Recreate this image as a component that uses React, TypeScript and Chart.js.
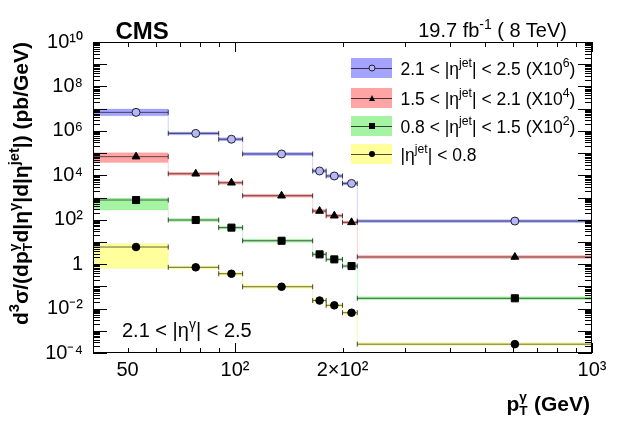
import { useEffect, useRef } from "react";
import type { ReactNode } from "react";
import { Chart, registerables } from "chart.js";
import type { Plugin } from "chart.js";

Chart.register(...registerables);

const FONT = '"Liberation Sans", Arial, Helvetica, sans-serif';

// photon pT bins (GeV) and the mean pT of each bin
const binEdges = [40, 65, 90, 105, 165, 180, 200, 220, 1000];
const binMeans = [52.8, 77.6, 97.7, 135, 172.5, 189.7, 212, 608];

// d3sigma (pb/GeV), already multiplied by the factor given in the legend
const xsEta2125 = [6.8e6, 7.7e5, 4.2e5, 9.1e4, 1.56e4, 9.3e3, 4.3e3, 87];
const xsEta1521 = [6.9e4, 1.17e4, 4.6e3, 1.2e3, 246, 151, 76, 2.1];
const xsEta0815 = [770, 97, 44, 11.3, 2.76, 1.64, 0.82, 0.029];
const xsEta0008 = [5.9, 0.72, 0.37, 0.096, 0.023, 0.014, 0.0065, 2.5e-4];

// systematic band, relative up / down
const sysUp2125 = [0.41, 0.16, 0.16, 0.16, 0.16, 0.16, 0.16, 0.16];
const sysDown2125 = [0.29, 0.14, 0.14, 0.14, 0.14, 0.14, 0.14, 0.14];
const sysUp1521 = [0.51, 0.16, 0.16, 0.16, 0.16, 0.16, 0.16, 0.16];
const sysDown1521 = [0.46, 0.14, 0.14, 0.14, 0.14, 0.14, 0.14, 0.14];
const sysUp0815 = [0.23, 0.16, 0.16, 0.16, 0.16, 0.16, 0.16, 0.16];
const sysDown0815 = [0.64, 0.14, 0.14, 0.14, 0.14, 0.14, 0.14, 0.14];
const sysUp0008 = [0.41, 0.16, 0.16, 0.16, 0.16, 0.16, 0.16, 0.16];
const sysDown0008 = [0.89, 0.14, 0.14, 0.14, 0.14, 0.14, 0.14, 0.14];

// labelled ticks
const xTickValues = [50, 100, 200, 1000];
const xTickLabels = ["50", "10²", "2×10²", "10³"];
const yTickValues = [1e-4, 1e-2, 1, 1e2, 1e4, 1e6, 1e8, 1e10];
const yTickLabels = ["10⁻⁴", "10⁻²", "1", "10²", "10⁴", "10⁶", "10⁸", "10¹⁰"];

type Series = {
  values: number[];
  up: number[];
  down: number[];
  band: string;
  edge: string;
  pointStyle: "circle" | "triangle" | "rect";
  radius: number;
  fill: string;
};

const series: Series[] = [
  { values: xsEta2125, up: sysUp2125, down: sysDown2125, band: "#a4a4ff", edge: "rgba(120,120,255,0.18)", pointStyle: "circle", radius: 4, fill: "#b6b6fa" },
  { values: xsEta1521, up: sysUp1521, down: sysDown1521, band: "#ffa4a4", edge: "rgba(255,120,120,0.18)", pointStyle: "triangle", radius: 4.5, fill: "#000" },
  { values: xsEta0815, up: sysUp0815, down: sysDown0815, band: "#a4f4a4", edge: "rgba(110,230,110,0.2)", pointStyle: "rect", radius: 5, fill: "#000" },
  { values: xsEta0008, up: sysUp0008, down: sysDown0008, band: "#ffff9c", edge: "rgba(240,240,90,0.25)", pointStyle: "circle", radius: 3.8, fill: "#000" },
];

const isDecade = (v: number) => {
  const l = Math.log10(v);
  return Math.abs(l - Math.round(l)) < 1e-9;
};

function logTicks(min: number, max: number) {
  const out: { value: number }[] = [];
  for (let e = Math.floor(Math.log10(min)); e <= Math.ceil(Math.log10(max)); e++) {
    for (let m = 1; m < 10; m++) {
      const v = m * Math.pow(10, e);
      if (v >= min * 0.999 && v <= max * 1.001) out.push({ value: v });
    }
  }
  return out;
}

function tickLabel(v: number, values: number[], labels: string[]) {
  const i = values.findIndex((t) => Math.abs(t - v) / t < 1e-6);
  return i >= 0 ? labels[i] : "";
}

// ROOT style frame: inward ticks on all four sides
const frameTicks: Plugin = {
  id: "frameTicks",
  afterDatasetsDraw(chart) {
    const { ctx, chartArea: a, scales } = chart;
    ctx.save();
    ctx.strokeStyle = "#000";
    ctx.lineWidth = 1;
    ctx.beginPath();
    for (const t of scales.x.ticks) {
      const px = Math.round(scales.x.getPixelForValue(t.value)) + 0.5;
      const len = isDecade(t.value) ? 10 : 5;
      ctx.moveTo(px, a.bottom);
      ctx.lineTo(px, a.bottom - len);
      ctx.moveTo(px, a.top);
      ctx.lineTo(px, a.top + len);
    }
    for (const t of scales.y.ticks) {
      const py = Math.round(scales.y.getPixelForValue(t.value)) + 0.5;
      const len = isDecade(t.value) ? 14 : 7;
      ctx.moveTo(a.left, py);
      ctx.lineTo(a.left + len, py);
      ctx.moveTo(a.right, py);
      ctx.lineTo(a.right - len, py);
    }
    ctx.stroke();
    ctx.strokeRect(a.left + 0.5, a.top + 0.5, a.width - 1, a.height - 1);
    ctx.restore();
  },
};

function Sup({ children }: { children: ReactNode }) {
  return <span style={{ fontSize: "0.7em", position: "relative", top: "-0.6em" }}>{children}</span>;
}

function SubSup({ sub, sup }: { sub: string; sup: string }) {
  return (
    <span style={{ position: "relative", display: "inline-block", width: "0.42em", height: 0 }}>
      <span style={{ position: "absolute", left: 0, bottom: "0.54em", fontSize: "0.65em", lineHeight: 1 }}>{sup}</span>
      <span style={{ position: "absolute", left: 0, bottom: "-0.49em", fontSize: "0.65em", lineHeight: 1 }}>{sub}</span>
    </span>
  );
}

function LegendRow({ center, band, marker, children }: { center: number; band: string; marker: ReactNode; children: ReactNode }) {
  return (
    <div style={{ position: "absolute", left: 351, top: center - 10, height: 20, display: "flex", alignItems: "center" }}>
      <div style={{ position: "relative", width: 41, height: 20, background: band }}>
        <div style={{ position: "absolute", left: 0, right: 0, top: 9.5, height: 1, background: "rgba(0,0,0,0.7)" }} />
        <div style={{ position: "absolute", left: 20.5, top: 10, transform: "translate(-50%,-50%)", lineHeight: 0 }}>{marker}</div>
      </div>
      <div style={{ marginLeft: 8.5, marginTop: 3, fontSize: 17.5, lineHeight: 1, whiteSpace: "nowrap" }}>{children}</div>
    </div>
  );
}

const openCircle = <div style={{ width: 5, height: 5, borderRadius: "50%", border: "1px solid #222", background: "#b6b6fa" }} />;
const triangle = <div style={{ width: 0, height: 0, borderLeft: "3.5px solid transparent", borderRight: "3.5px solid transparent", borderBottom: "6px solid #000" }} />;
const square = <div style={{ width: 6, height: 6, background: "#000" }} />;
const dot = <div style={{ width: 6, height: 6, borderRadius: "50%", background: "#000" }} />;

export default function App() {
  const ref = useRef<HTMLCanvasElement>(null);

  useEffect(() => {
    document.body.style.margin = "0";
    if (!ref.current) return;

    const datasets: any[] = [];
    series.forEach((s) => {
      const last = s.values.length - 1;
      const upper = s.values.map((v, i) => ({ x: binEdges[i], y: v * (1 + s.up[i]) }));
      upper.push({ x: binEdges[last + 1], y: s.values[last] * (1 + s.up[last]) });
      const lower = s.values.map((v, i) => ({ x: binEdges[i], y: v * (1 - s.down[i]) }));
      lower.push({ x: binEdges[last + 1], y: s.values[last] * (1 - s.down[last]) });
      datasets.push({
        data: upper,
        stepped: "before",
        borderColor: s.edge,
        borderWidth: 1,
        pointRadius: 0,
        fill: false,
        order: 3,
      });
      datasets.push({
        data: lower,
        stepped: "before",
        borderColor: s.edge,
        borderWidth: 1,
        pointRadius: 0,
        fill: "-1",
        backgroundColor: s.band,
        order: 3,
      });
      datasets.push({
        data: s.values.flatMap((v, i) => [
          { x: binEdges[i], y: v },
          { x: binEdges[i + 1], y: v },
          { x: binEdges[i + 1], y: null },
        ]),
        borderColor: "rgba(0,0,0,0.6)",
        borderWidth: 1,
        pointStyle: "line",
        rotation: 90,
        pointRadius: 2.5,
        pointBorderColor: "rgba(0,0,0,0.7)",
        pointBorderWidth: 1,
        spanGaps: false,
        fill: false,
        order: 2,
      });
      datasets.push({
        data: s.values.map((v, i) => ({ x: binMeans[i], y: v })),
        showLine: false,
        pointStyle: s.pointStyle,
        pointRadius: s.radius,
        pointBackgroundColor: s.fill,
        pointBorderColor: s.pointStyle === "circle" && s.fill !== "#000" ? "#222" : "#000",
        pointBorderWidth: 1,
        order: 1,
      });
    });

    const chart = new Chart(ref.current, {
      type: "line",
      data: { datasets },
      options: {
        animation: false,
        responsive: true,
        maintainAspectRatio: false,
        events: [],
        layout: { padding: { left: 0, right: 31, top: 42, bottom: 0 } },
        plugins: { legend: { display: false }, tooltip: { enabled: false } },
        scales: {
          x: {
            type: "logarithmic",
            min: 40,
            max: 1000,
            afterBuildTicks: (scale: any) => {
              scale.ticks = logTicks(scale.min, scale.max);
            },
            afterFit: (scale: any) => {
              scale.height = 69;
            },
            grid: { display: false, drawTicks: false },
            border: { display: false },
            ticks: {
              autoSkip: false,
              maxRotation: 0,
              padding: 5,
              color: "#000",
              font: { family: FONT, size: 20 },
              callback: (v: any) => tickLabel(Number(v), xTickValues, xTickLabels),
            },
          },
          y: {
            type: "logarithmic",
            min: 1e-4,
            max: 1e10,
            afterBuildTicks: (scale: any) => {
              scale.ticks = logTicks(scale.min, scale.max);
            },
            afterFit: (scale: any) => {
              scale.width = 93;
            },
            grid: { display: false, drawTicks: false },
            border: { display: false },
            ticks: {
              autoSkip: false,
              padding: 10,
              color: "#000",
              font: { family: FONT, size: 20 },
              callback: (v: any) => tickLabel(Number(v), yTickValues, yTickLabels),
            },
          },
        },
      },
      plugins: [frameTicks],
    });
    return () => {
      chart.destroy();
    };
  }, [ref]);

  return (
    <div style={{ position: "relative", width: 623, height: 422, fontFamily: FONT, color: "#000" }}>
      <div style={{ position: "absolute", left: 0, top: 0, width: 623, height: 422 }}>
        <canvas ref={ref} />
      </div>

      <div style={{ position: "absolute", left: 115.5, top: 19, fontSize: 24, fontWeight: "bold", lineHeight: 1 }}>CMS</div>
      <div style={{ position: "absolute", right: 56, top: 20.4, fontSize: 20, lineHeight: 1, whiteSpace: "nowrap" }}>
        19.7 fb<Sup>-1</Sup> ( 8 TeV)
      </div>
      <div style={{ position: "absolute", left: 122, top: 320, fontSize: 20, lineHeight: 1, whiteSpace: "nowrap" }}>
        2.1 &lt; |η<Sup>γ</Sup>| &lt; 2.5
      </div>

      <LegendRow center={68} band="#a4a4ff" marker={openCircle}>
        2.1 &lt; |η<Sup>jet</Sup>| &lt; 2.5 (X10<Sup>6</Sup>)
      </LegendRow>
      <LegendRow center={98} band="#ffa4a4" marker={triangle}>
        1.5 &lt; |η<Sup>jet</Sup>| &lt; 2.1 (X10<Sup>4</Sup>)
      </LegendRow>
      <LegendRow center={126} band="#a4f4a4" marker={square}>
        0.8 &lt; |η<Sup>jet</Sup>| &lt; 1.5 (X10<Sup>2</Sup>)
      </LegendRow>
      <LegendRow center={154} band="#ffff9c" marker={dot}>
        |η<Sup>jet</Sup>| &lt; 0.8
      </LegendRow>

      <div style={{ position: "absolute", right: 33, top: 393, fontSize: 21, fontWeight: "bold", lineHeight: 1, whiteSpace: "nowrap" }}>
        p<SubSup sup="γ" sub="T" /> (GeV)
      </div>
      <div
        style={{
          position: "absolute",
          left: 10,
          top: 335,
          width: 293,
          textAlign: "right",
          transformOrigin: "left top",
          transform: "rotate(-90deg)",
          fontSize: 21,
          fontWeight: "bold",
          lineHeight: 1,
          whiteSpace: "nowrap",
        }}
      >
        d<Sup>3</Sup>σ/(dp<SubSup sup="γ" sub="T" />d|η<Sup>γ</Sup>|d|η<Sup>jet</Sup>|) (pb/GeV)
      </div>
    </div>
  );
}
